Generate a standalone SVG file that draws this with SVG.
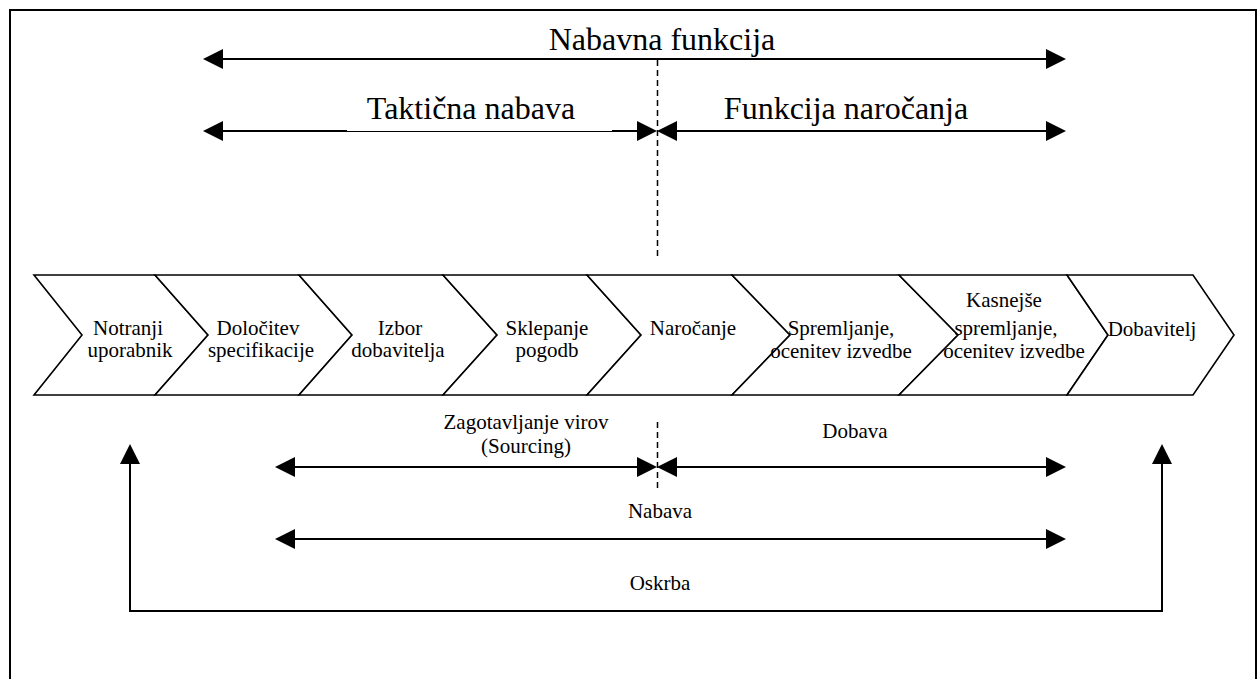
<svg xmlns="http://www.w3.org/2000/svg" width="1260" height="679" viewBox="0 0 1260 679">
  <defs>
    <marker id="ah" viewBox="0 0 20 20" refX="0" refY="10" markerWidth="20" markerHeight="20" markerUnits="userSpaceOnUse" orient="auto-start-reverse">
      <path d="M0,0 L20,10 L0,20 z" fill="#000"/>
    </marker>
    <style>
      .frame { fill: none; stroke: #000; stroke-width: 2; }
      .chev { fill: #fff; stroke: #000; stroke-width: 1.6; stroke-linejoin: miter; }
      .ln { fill: none; stroke: #000; stroke-width: 2; }
      .thin { fill: none; stroke: #000; stroke-width: 1; }
      .dash { fill: none; stroke: #000; stroke-width: 1.5; stroke-dasharray: 6 4; }
      .both { marker-start: url(#ah); marker-end: url(#ah); }
      .big { font-family: "Liberation Serif", "Times New Roman", serif; font-size: 32px; fill: #000; text-anchor: middle; }
      .lbl { font-family: "Liberation Serif", "Times New Roman", serif; font-size: 21px; fill: #000; text-anchor: middle; }
    </style>
  </defs>

  <rect width="1260" height="679" fill="#fff"/>
  <rect class="frame" x="10" y="10" width="1246" height="700"/>

  <!-- process chain -->
  <g id="n1">
    <polygon class="chev" points="34,275 155,275 208,335 155,395 34,395 82,335"/>
    <text class="lbl" x="128" y="335">Notranji</text>
    <text class="lbl" x="130" y="357">uporabnik</text>
  </g>
  <g id="n2">
    <polygon class="chev" points="155,275 299,275 352,335 299,395 155,395 208,335"/>
    <text class="lbl" x="258" y="335">Določitev</text>
    <text class="lbl" x="261" y="357">specifikacije</text>
  </g>
  <g id="n3">
    <polygon class="chev" points="299,275 443,275 497,335 443,395 299,395 352,335"/>
    <text class="lbl" x="400" y="335">Izbor</text>
    <text class="lbl" x="398" y="357">dobavitelja</text>
  </g>
  <g id="n4">
    <polygon class="chev" points="443,275 587,275 641,335 587,395 443,395 497,335"/>
    <text class="lbl" x="547" y="335">Sklepanje</text>
    <text class="lbl" x="547" y="357">pogodb</text>
  </g>
  <g id="n5">
    <polygon class="chev" points="587,275 732,275 790,335 732,395 587,395 641,335"/>
    <text class="lbl" x="693" y="335">Naročanje</text>
  </g>
  <g id="n6">
    <polygon class="chev" points="732,275 899,275 958,335 899,395 732,395 790,335"/>
    <text class="lbl" x="841" y="335">Spremljanje,</text>
    <text class="lbl" x="841" y="358">ocenitev izvedbe</text>
  </g>
  <g id="n7">
    <polygon class="chev" points="899,275 1067,275 1108,335 1067,395 899,395 958,335"/>
    <text class="lbl" x="1004" y="307">Kasnejše</text>
    <text class="lbl" x="1006" y="335">spremljanje,</text>
    <text class="lbl" x="1014" y="358">ocenitev izvedbe</text>
  </g>
  <g id="n8">
    <polygon class="chev" points="1067,275 1193,275 1234,335 1193,395 1067,395 1108,335"/>
    <text class="lbl" x="1152" y="336">Dobavitelj</text>
  </g>

  <!-- spans and dividers -->
  <g id="connectors">
    <line class="ln both" x1="223" y1="59" x2="1046" y2="59"/>
    <line class="ln" x1="223" y1="131" x2="347" y2="131" marker-start="url(#ah)"/>
    <line class="thin" x1="347" y1="131.5" x2="612" y2="131.5"/>
    <line class="ln" x1="612" y1="131" x2="637" y2="131" marker-end="url(#ah)"/>
    <line class="ln both" x1="677" y1="131" x2="1046" y2="131"/>
    <line class="dash" x1="657.5" y1="60" x2="657.5" y2="256"/>

    <line class="ln both" x1="295" y1="467" x2="637" y2="467"/>
    <line class="ln both" x1="677" y1="467" x2="1046" y2="467"/>
    <line class="dash" x1="657.5" y1="422" x2="657.5" y2="492"/>
    <line class="ln both" x1="295" y1="539" x2="1046" y2="539"/>
    <path class="ln both" d="M130,464 V611 H1162 V464"/>
  </g>

  <g id="labels">
    <text class="big" x="662" y="50">Nabavna funkcija</text>
    <text class="big" x="471" y="119">Taktična nabava</text>
    <text class="big" x="846" y="119">Funkcija naročanja</text>
    <text class="lbl" x="526" y="429">Zagotavljanje virov</text>
    <text class="lbl" x="526" y="453">(Sourcing)</text>
    <text class="lbl" x="855" y="438">Dobava</text>
    <text class="lbl" x="660" y="518">Nabava</text>
    <text class="lbl" x="660" y="590">Oskrba</text>
  </g>
</svg>
